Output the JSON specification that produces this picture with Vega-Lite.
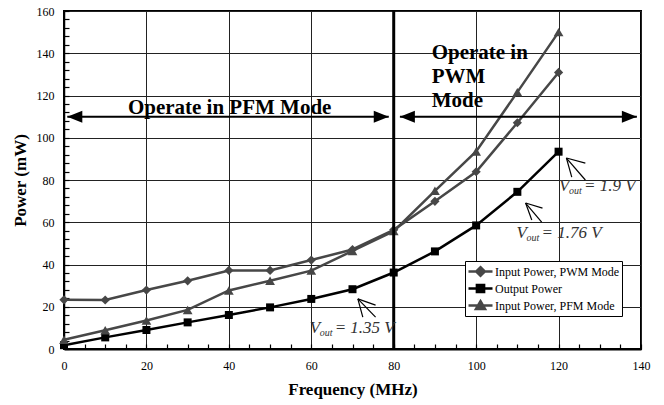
{
  "$schema": "https://vega.github.io/schema/vega-lite/v6.json",
  "width": 577,
  "height": 338,
  "autosize": "none",
  "padding": {"left": 64, "top": 11, "right": 23, "bottom": 56},
  "background": "white",
  "config": {
    "font": "Liberation Serif",
    "view": {"stroke": "#000", "strokeWidth": 2},
    "axis": {
      "labelFont": "Liberation Serif",
      "labelFontSize": 12,
      "labelColor": "#000",
      "titleFont": "Liberation Serif",
      "titleFontSize": 17,
      "titleFontWeight": "bold",
      "titleColor": "#000",
      "domainColor": "#000",
      "tickColor": "#000",
      "tickWidth": 1.2,
      "gridColor": "#222",
      "gridWidth": 1
    }
  },
  "datasets": {
    "series": [
      {"x": 0, "y": 23.3, "series": "Input Power, PWM Mode"},
      {"x": 10, "y": 23.2, "series": "Input Power, PWM Mode"},
      {"x": 20, "y": 27.9, "series": "Input Power, PWM Mode"},
      {"x": 30, "y": 32.3, "series": "Input Power, PWM Mode"},
      {"x": 40, "y": 37.2, "series": "Input Power, PWM Mode"},
      {"x": 50, "y": 37.2, "series": "Input Power, PWM Mode"},
      {"x": 60, "y": 42.1, "series": "Input Power, PWM Mode"},
      {"x": 70, "y": 47.1, "series": "Input Power, PWM Mode"},
      {"x": 80, "y": 56.4, "series": "Input Power, PWM Mode"},
      {"x": 90, "y": 69.9, "series": "Input Power, PWM Mode"},
      {"x": 100, "y": 83.9, "series": "Input Power, PWM Mode"},
      {"x": 110, "y": 107.1, "series": "Input Power, PWM Mode"},
      {"x": 120, "y": 130.9, "series": "Input Power, PWM Mode"},
      {"x": 0, "y": 1.8, "series": "Output Power"},
      {"x": 10, "y": 5.5, "series": "Output Power"},
      {"x": 20, "y": 9.0, "series": "Output Power"},
      {"x": 30, "y": 12.6, "series": "Output Power"},
      {"x": 40, "y": 16.1, "series": "Output Power"},
      {"x": 50, "y": 19.7, "series": "Output Power"},
      {"x": 60, "y": 23.7, "series": "Output Power"},
      {"x": 70, "y": 28.3, "series": "Output Power"},
      {"x": 80, "y": 36.2, "series": "Output Power"},
      {"x": 90, "y": 46.2, "series": "Output Power"},
      {"x": 100, "y": 58.5, "series": "Output Power"},
      {"x": 110, "y": 74.4, "series": "Output Power"},
      {"x": 120, "y": 93.4, "series": "Output Power"},
      {"x": 0, "y": 4.4, "series": "Input Power, PFM Mode"},
      {"x": 10, "y": 8.9, "series": "Input Power, PFM Mode"},
      {"x": 20, "y": 13.5, "series": "Input Power, PFM Mode"},
      {"x": 30, "y": 18.5, "series": "Input Power, PFM Mode"},
      {"x": 40, "y": 27.7, "series": "Input Power, PFM Mode"},
      {"x": 50, "y": 32.3, "series": "Input Power, PFM Mode"},
      {"x": 60, "y": 37.1, "series": "Input Power, PFM Mode"},
      {"x": 70, "y": 46.4, "series": "Input Power, PFM Mode"},
      {"x": 80, "y": 55.8, "series": "Input Power, PFM Mode"},
      {"x": 90, "y": 74.9, "series": "Input Power, PFM Mode"},
      {"x": 100, "y": 93.5, "series": "Input Power, PFM Mode"},
      {"x": 110, "y": 121.6, "series": "Input Power, PFM Mode"},
      {"x": 120, "y": 150.0, "series": "Input Power, PFM Mode"}
    ],
    "divider": [{"x": 80, "y": 0, "y2": 160}],
    "modeArrows": [
      {"x": 0.8, "x2": 78.8, "y": 110},
      {"x": 81.5, "x2": 139, "y": 110}
    ],
    "arrowHeads": [
      {"x": 0.8, "y": 110, "dir": "left"},
      {"x": 78.8, "y": 110, "dir": "right"},
      {"x": 81.5, "y": 110, "dir": "left"},
      {"x": 139, "y": 110, "dir": "right"}
    ],
    "pointers": [
      {"x": 71.3, "y": 23.7, "x2": 75.6, "y2": 15.1},
      {"x": 71.3, "y": 23.7, "x2": 75.6, "y2": 20.8},
      {"x": 71.3, "y": 23.7, "x2": 72.5, "y2": 15.1},
      {"x": 112.0, "y": 69.1, "x2": 115.9, "y2": 60.1},
      {"x": 112.0, "y": 69.1, "x2": 116.1, "y2": 66.7},
      {"x": 112.0, "y": 69.1, "x2": 113.5, "y2": 61.1},
      {"x": 121.9, "y": 90.4, "x2": 126.5, "y2": 80.0},
      {"x": 121.9, "y": 90.4, "x2": 126.5, "y2": 88.0},
      {"x": 121.9, "y": 90.4, "x2": 123.2, "y2": 81.4}
    ],
    "vout": [
      {"x": 59.6, "y": 7.6, "rest": "= 1.35 V"},
      {"x": 109.8, "y": 52.5, "rest": "= 1.76 V"},
      {"x": 120.1, "y": 75.0, "rest": "= 1.9 V"}
    ],
    "modeText": [
      {"x": 15.5, "y": 111.2, "t": "Operate in PFM Mode"},
      {"x": 89.2, "y": 137.3, "t": "Operate in"},
      {"x": 89.2, "y": 126.0, "t": "PWM"},
      {"x": 89.2, "y": 114.6, "t": "Mode"}
    ]
  },
  "encoding": {
    "x": {
      "field": "x",
      "type": "quantitative",
      "scale": {"domain": [0, 140], "nice": false, "zero": false},
      "axis": {
        "title": "Frequency (MHz)",
        "values": [0,5,10,15,20,25,30,35,40,45,50,55,60,65,70,75,80,85,90,95,100,105,110,115,120,125,130,135,140],
        "tickCount": 200,
        "format": "d",
        "labelExpr": "datum.value % 20 === 0 ? datum.label : ''",
        "grid": true,
        "gridOpacity": {"condition": {"test": "datum.value % 20 !== 0", "value": 0}, "value": 1},
        "ticks": true,
        "tickSize": -5,
        "domainWidth": 2,
        "labelPadding": 16,
        "titlePadding": 10,
        "labelFlush": false,
        "labelOverlap": false
      }
    },
    "y": {
      "field": "y",
      "type": "quantitative",
      "scale": {"domain": [0, 160], "nice": false, "zero": false},
      "axis": {
        "title": "Power (mW)",
        "values": [0,4,8,12,16,20,24,28,32,36,40,44,48,52,56,60,64,68,72,76,80,84,88,92,96,100,104,108,112,116,120,124,128,132,136,140,144,148,152,156,160],
        "tickCount": 200,
        "format": "d",
        "labelExpr": "datum.value % 20 === 0 ? datum.label : ''",
        "grid": true,
        "gridOpacity": {"condition": {"test": "datum.value % 20 !== 0", "value": 0}, "value": 1},
        "ticks": true,
        "tickSize": -5,
        "domainWidth": 1.5,
        "labelPadding": 15,
        "titlePadding": 7,
        "labelFlush": false,
        "labelOverlap": false
      }
    }
  },
  "layer": [
    {
      "data": {"name": "series"},
      "mark": {"type": "line", "strokeWidth": 2.5},
      "encoding": {
        "color": {
          "field": "series",
          "type": "nominal",
          "scale": {
            "domain": ["Input Power, PWM Mode", "Output Power", "Input Power, PFM Mode"],
            "range": ["#474747", "#000000", "#474747"]
          },
          "legend": {
            "title": null,
            "orient": "none",
            "legendX": 401,
            "legendY": 250,
            "strokeColor": "#000",
            "fillColor": "#fff",
            "padding": 2,
            "cornerRadius": 0,
            "labelFont": "Liberation Serif",
            "labelFontSize": 12,
            "labelColor": "#000",
            "labelOffset": 1,
            "rowPadding": 0,
            "clipHeight": 17,
            "symbolSize": 576,
            "symbolStrokeWidth": 2.5,
            "encode": {
              "symbols": {
                "update": {
                  "shape": {"signal": "datum.value === 'Output Power' ? 'M-1,0H1M-0.3,-0.3H0.3V0.3H-0.3Z' : (datum.value === 'Input Power, PWM Mode' ? 'M-1,0H1M0,-0.36L0.36,0L0,0.36L-0.36,0Z' : 'M-1,0H1M0,-0.36L0.38,0.3H-0.38Z')"},
                  "fill": {"signal": "datum.value === 'Output Power' ? '#000' : '#474747'"},
                  "stroke": {"signal": "datum.value === 'Output Power' ? '#000' : '#474747'"},
                  "strokeWidth": {"value": 2.5},
                  "opacity": {"value": 1},
                  "fillOpacity": {"value": 1},
                  "strokeOpacity": {"value": 1}
                }
              }
            }
          }
        }
      }
    },
    {
      "data": {"name": "series"},
      "transform": [{"filter": "datum.series === 'Input Power, PWM Mode'"}],
      "mark": {"type": "point", "shape": "diamond", "size": 85, "filled": true, "color": "#474747", "opacity": 1}
    },
    {
      "data": {"name": "series"},
      "transform": [{"filter": "datum.series === 'Output Power'"}],
      "mark": {"type": "point", "shape": "square", "size": 64, "filled": true, "color": "#000000", "opacity": 1}
    },
    {
      "data": {"name": "series"},
      "transform": [{"filter": "datum.series === 'Input Power, PFM Mode'"}],
      "mark": {"type": "point", "shape": "triangle-up", "size": 95, "filled": true, "color": "#474747", "opacity": 1}
    },
    {
      "data": {"name": "divider"},
      "mark": {"type": "rule", "color": "#000", "strokeWidth": 3},
      "encoding": {"y2": {"field": "y2"}}
    },
    {
      "data": {"name": "modeArrows"},
      "mark": {"type": "rule", "color": "#000", "strokeWidth": 2},
      "encoding": {"x2": {"field": "x2"}}
    },
    {
      "data": {"name": "arrowHeads"},
      "transform": [{"filter": "datum.dir === 'left'"}],
      "mark": {"type": "point", "shape": "M0,0L2,-0.8L2,0.8Z", "size": 225, "filled": true, "color": "#000", "opacity": 1}
    },
    {
      "data": {"name": "arrowHeads"},
      "transform": [{"filter": "datum.dir === 'right'"}],
      "mark": {"type": "point", "shape": "M0,0L-2,-0.8L-2,0.8Z", "size": 225, "filled": true, "color": "#000", "opacity": 1}
    },
    {
      "data": {"name": "pointers"},
      "mark": {"type": "rule", "color": "#000", "strokeWidth": 1.2},
      "encoding": {"x2": {"field": "x2"}, "y2": {"field": "y2"}}
    },
    {
      "data": {"name": "vout"},
      "mark": {"type": "text", "text": "V", "align": "left", "baseline": "alphabetic", "font": "Liberation Serif", "fontStyle": "italic", "fontSize": 17, "color": "#333"}
    },
    {
      "data": {"name": "vout"},
      "mark": {"type": "text", "text": "out", "align": "left", "baseline": "alphabetic", "font": "Liberation Serif", "fontStyle": "italic", "fontSize": 10, "dx": 10, "dy": 3, "color": "#333"}
    },
    {
      "data": {"name": "vout"},
      "mark": {"type": "text", "align": "left", "baseline": "alphabetic", "font": "Liberation Serif", "fontStyle": "italic", "fontSize": 17, "dx": 25, "color": "#333"},
      "encoding": {"text": {"field": "rest"}}
    },
    {
      "data": {"name": "modeText"},
      "mark": {"type": "text", "align": "left", "baseline": "alphabetic", "font": "Liberation Serif", "fontWeight": "bold", "fontSize": 21, "color": "#000"},
      "encoding": {"text": {"field": "t"}}
    }
  ]
}
